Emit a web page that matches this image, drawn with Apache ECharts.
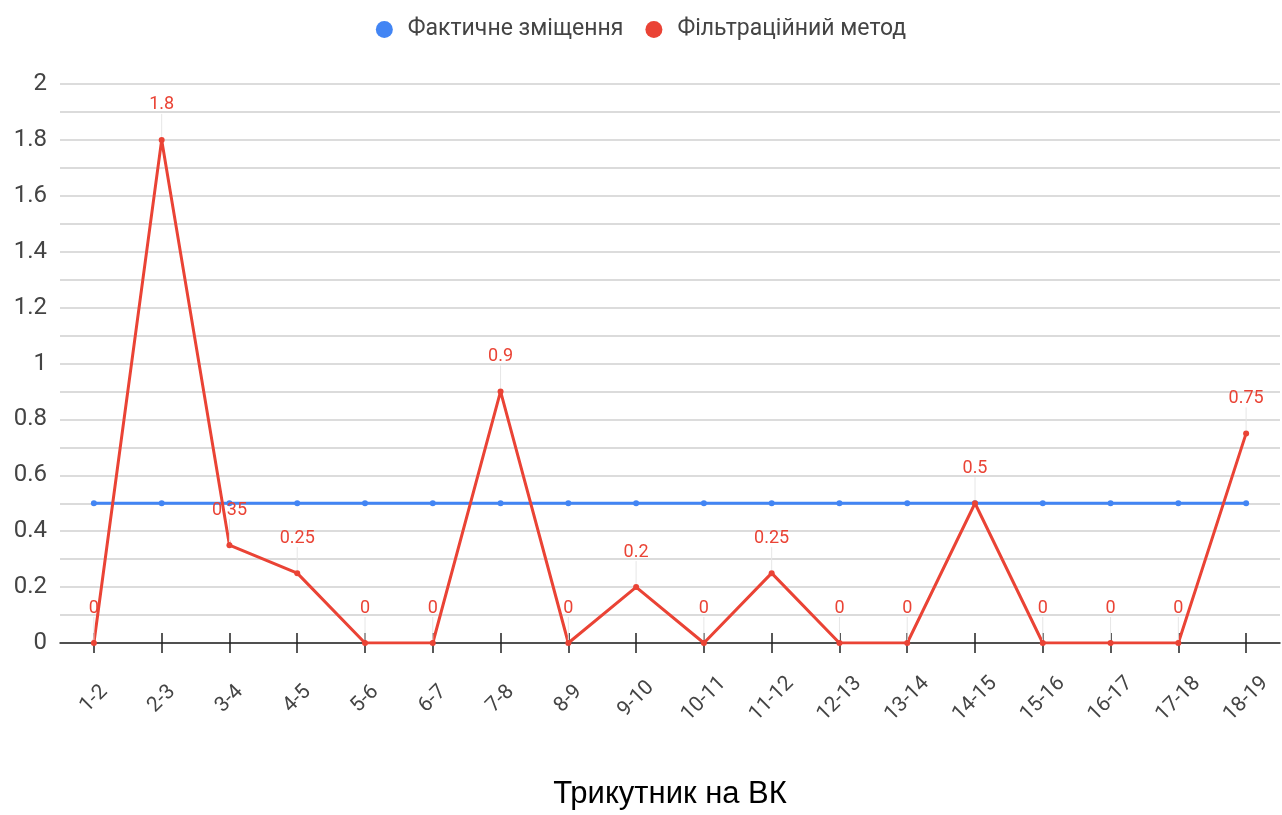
<!DOCTYPE html>
<html>
<head>
<meta charset="utf-8">
<script src="https://cdn.jsdelivr.net/npm/echarts@6/dist/echarts.min.js"></script>
<style>
html,body{margin:0;padding:0;background:#fff;}
#chart{width:1282px;height:815px;}
</style>
</head>
<body>
<div id="chart"></div>
<script>
const categories = ['1-2','2-3','3-4','4-5','5-6','6-7','7-8','8-9','9-10','10-11','11-12','12-13','13-14','14-15','15-16','16-17','17-18','18-19'];
const actualShift = [0.5,0.5,0.5,0.5,0.5,0.5,0.5,0.5,0.5,0.5,0.5,0.5,0.5,0.5,0.5,0.5,0.5,0.5];
const filterMethod = [0,1.8,0.35,0.25,0,0,0.9,0,0.2,0,0.25,0,0,0.5,0,0,0,0.75];
const seriesNames = ['Фактичне зміщення','Фільтраційний метод'];
const xAxisTitle = 'Трикутник на ВК';

const chart = echarts.init(document.getElementById('chart'));
chart.setOption({
  animation: false,
  color: ['#4285F4','#EA4335'],
  legend: {
    top: 13,
    left: 'center',
    icon: 'circle',
    itemWidth: 17,
    itemHeight: 17,
    itemGap: 22,
    textStyle: {fontFamily: 'Roboto', fontSize: 23, color: '#444', padding: [0,0,0,10]},
    data: seriesNames
  },
  grid: {left: 60, right: 2, top: 84, bottom: 161},
  xAxis: [{
    type: 'category',
    data: categories,
    boundaryGap: true,
    axisLine: {lineStyle: {color: '#222', width: 1.5}},
    axisTick: {show: true, alignWithLabel: true, length: 10, lineStyle: {color: '#222', width: 1.5}},
    axisLabel: {rotate: 45, align: 'center', verticalAlign: 'middle', fontFamily: 'Roboto', fontSize: 21, color: '#444', margin: 56, interval: 0},
    name: xAxisTitle,
    nameLocation: 'middle',
    nameGap: 136,
    nameTextStyle: {fontFamily: 'Liberation Sans', fontSize: 31, color: '#000'}
  },{
    type: 'category',
    data: categories,
    position: 'bottom',
    boundaryGap: true,
    axisLine: {show: false},
    axisTick: {show: true, inside: true, alignWithLabel: true, length: 10, lineStyle: {color: '#222', width: 1.5}},
    axisLabel: {show: false}
  }],
  yAxis: {
    type: 'value',
    min: 0, max: 2, interval: 0.2,
    axisLine: {show: false},
    axisTick: {show: false},
    axisLabel: {fontFamily: 'Roboto', fontSize: 24, color: '#444', margin: 13},
    splitLine: {lineStyle: {color: '#d0d0d0', width: 1.5}},
    minorTick: {show: false, splitNumber: 2},
    minorSplitLine: {show: true, lineStyle: {color: '#d0d0d0', width: 1.5}}
  },
  series: [{
    name: seriesNames[0],
    type: 'line',
    data: actualShift,
    symbol: 'circle',
    symbolSize: 6,
    lineStyle: {width: 3},
    z: 2
  },{
    name: seriesNames[1],
    type: 'line',
    data: filterMethod,
    symbol: 'circle',
    symbolSize: 6,
    lineStyle: {width: 3},
    z: 3,
    label: {
      show: true,
      position: 'top',
      distance: 4,
      fontFamily: 'Roboto',
      fontSize: 18,
      color: '#EA4335'
    },
    labelLayout: {dy: -19},
    labelLine: {show: true, lineStyle: {color: '#e6e6e6', width: 1}}
  }]
});
</script>
</body>
</html>
